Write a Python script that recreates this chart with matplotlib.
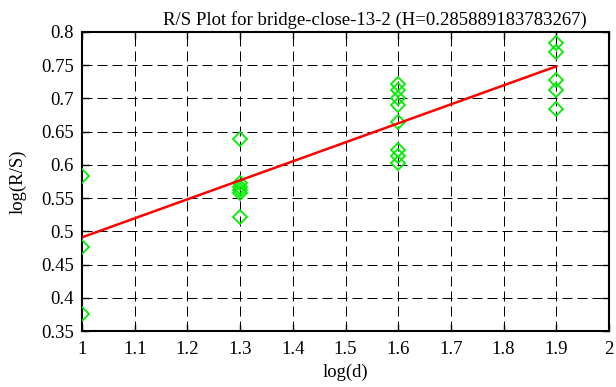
import matplotlib
matplotlib.use("Agg")
import matplotlib.pyplot as plt
import numpy as np

plt.rcParams['font.family'] = ['Liberation Serif', 'DejaVu Serif']

# Data
log_d = [1.0, 1.0, 1.0,
         1.3, 1.3, 1.3, 1.3, 1.3, 1.3,
         1.6, 1.6, 1.6, 1.6, 1.6, 1.6, 1.6, 1.6,
         1.9, 1.9, 1.9, 1.9, 1.9]
log_rs = [0.583, 0.477, 0.375,
          0.639, 0.572, 0.566, 0.562, 0.558, 0.521,
          0.721, 0.713, 0.700, 0.690, 0.665, 0.622, 0.613, 0.603,
          0.783, 0.770, 0.728, 0.713, 0.684]
H = 0.285889183783267
intercept = 0.491 - H * 1.0
fit_x = [1.0, 1.9]

xticks = [1, 1.1, 1.2, 1.3, 1.4, 1.5, 1.6, 1.7, 1.8, 1.9, 2]
xticklabels = ['1', '1.1', '1.2', '1.3', '1.4', '1.5', '1.6', '1.7', '1.8', '1.9', '2']
yticks = [0.35, 0.4, 0.45, 0.5, 0.55, 0.6, 0.65, 0.7, 0.75, 0.8]
yticklabels = ['0.35', '0.4', '0.45', '0.5', '0.55', '0.6', '0.65', '0.7', '0.75', '0.8']

fig = plt.figure(figsize=(6.16, 3.87), dpi=100)
ax = fig.add_axes([82/616, 1-331/387, (609-82)/616, (331-32)/387])

ax.plot(log_d, log_rs, linestyle='none', marker='D', markersize=7.5,
        markerfacecolor='none', markeredgecolor='#00ee00', markeredgewidth=1.3, zorder=3)
fy = [intercept + H * x for x in fit_x]
ax.plot(fit_x, fy, color='#ff0000', linewidth=1.8, zorder=4)

ax.set_xlim(1, 2)
ax.set_ylim(0.35, 0.8)
ax.set_xticks(xticks)
ax.set_xticklabels(xticklabels)
ax.set_yticks(yticks)
ax.set_yticklabels(yticklabels)
ax.grid(True, color='black', linestyle=(0, (10, 5)), linewidth=0.72)
ax.tick_params(direction='in', length=5, width=1, top=True, right=True,
               labelsize=13.5, colors='black')
ax.tick_params(axis='x', pad=7)
ax.tick_params(axis='y', pad=6)
for s in ax.spines.values():
    s.set_linewidth(1.5)
    s.set_color('black')

ax.set_title('R/S Plot for bridge-close-13-2 (H=0.285889183783267)', fontsize=13.5,
             x=(375-82)/527, pad=5)
ax.set_xlabel('log(d)', fontsize=13.5, labelpad=4)
ax.set_ylabel('log(R/S)', fontsize=13.5, labelpad=10)

fig.savefig('out.png', dpi=100)
